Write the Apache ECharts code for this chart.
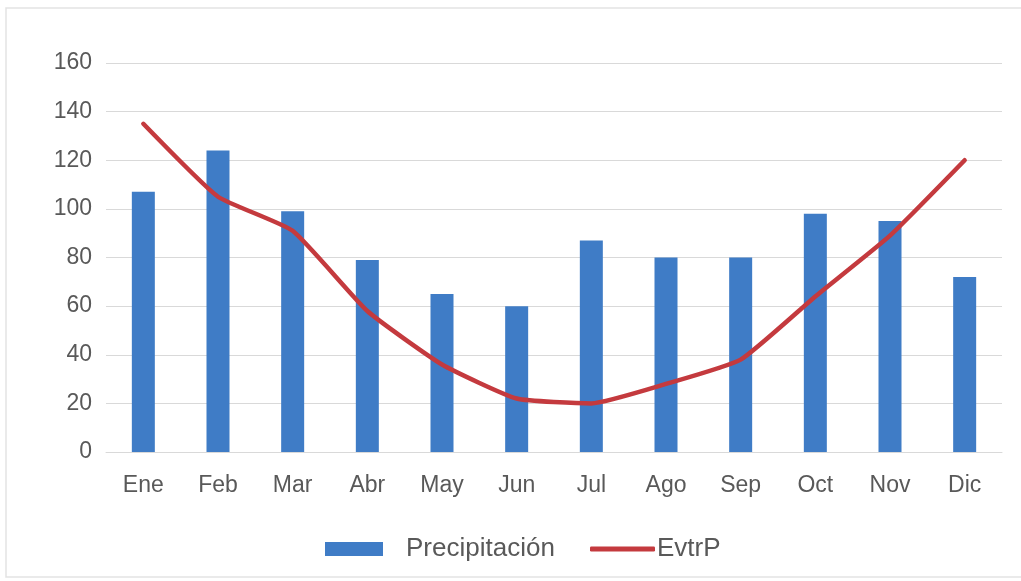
<!DOCTYPE html>
<html>
<head>
<meta charset="utf-8">
<script src="https://cdn.jsdelivr.net/npm/echarts@6/dist/echarts.min.js"></script>
<style>
html,body{margin:0;padding:0;background:#fff;}
#chart{width:1021px;height:581px;}
</style>
</head>
<body>
<div id="chart"></div>
<script>
const categories = ['Ene','Feb','Mar','Abr','May','Jun','Jul','Ago','Sep','Oct','Nov','Dic'];
const precipitacion = [107, 124, 99, 79, 65, 60, 87, 80, 80, 98, 95, 72];
const evtrP = [135, 105, 91, 58, 36, 22, 20, 28, 38, 64, 89, 120];
const yTicks = [0, 20, 40, 60, 80, 100, 120, 140, 160];

const chart = echarts.init(document.getElementById('chart'), null, {renderer: 'canvas'});
const textColor = '#595959';
const font = '"Liberation Sans", Arial, sans-serif';

chart.setOption({
  backgroundColor: '#ffffff',
  animation: false,
  graphic: [{
    type: 'rect',
    shape: {x: 6, y: 8, width: 1030, height: 569},
    style: {fill: 'none', stroke: '#e3e3e3', lineWidth: 1.5},
    silent: true
  }],
  grid: {left: 106, right: 19, top: 63, bottom: 129, containLabel: false},
  legend: [{
    data: [{name: 'Precipitación', icon: 'rect'}],
    left: 325,
    top: 536,
    padding: 0,
    itemWidth: 58,
    itemHeight: 14,
    itemGap: 0,
    textStyle: {color: textColor, fontSize: 26, fontFamily: font, padding: [0, 0, 0, 18]}
  }, {
    data: [{name: 'EvtrP', icon: 'roundRect'}],
    left: 590,
    top: 536,
    padding: 0,
    itemWidth: 65,
    itemHeight: 5,
    textStyle: {color: textColor, fontSize: 26, fontFamily: font, padding: [0, 0, 0, -3]}
  }],
  xAxis: {
    type: 'category',
    data: categories,
    boundaryGap: true,
    axisLine: {show: true, lineStyle: {color: '#d9d9d9', width: 1}},
    axisTick: {show: false},
    axisLabel: {color: textColor, fontSize: 23, fontFamily: font, margin: 22}
  },
  yAxis: {
    type: 'value',
    min: yTicks[0],
    max: yTicks[yTicks.length - 1],
    interval: 20,
    axisLine: {show: false},
    axisTick: {show: false},
    splitLine: {show: true, lineStyle: {color: '#d9d9d9', width: 1}},
    axisLabel: {color: textColor, fontSize: 23, fontFamily: font, margin: 14}
  },
  series: [{
    name: 'Precipitación',
    type: 'bar',
    data: precipitacion,
    barWidth: 23,
    itemStyle: {color: '#3f7cc6'}
  }, {
    name: 'EvtrP',
    type: 'line',
    data: evtrP,
    smooth: 0.15,
    symbol: 'none',
    lineStyle: {color: '#c43a3e', width: 4.5, cap: 'round', join: 'round'},
    itemStyle: {color: '#c43a3e'}
  }]
});
</script>
</body>
</html>
